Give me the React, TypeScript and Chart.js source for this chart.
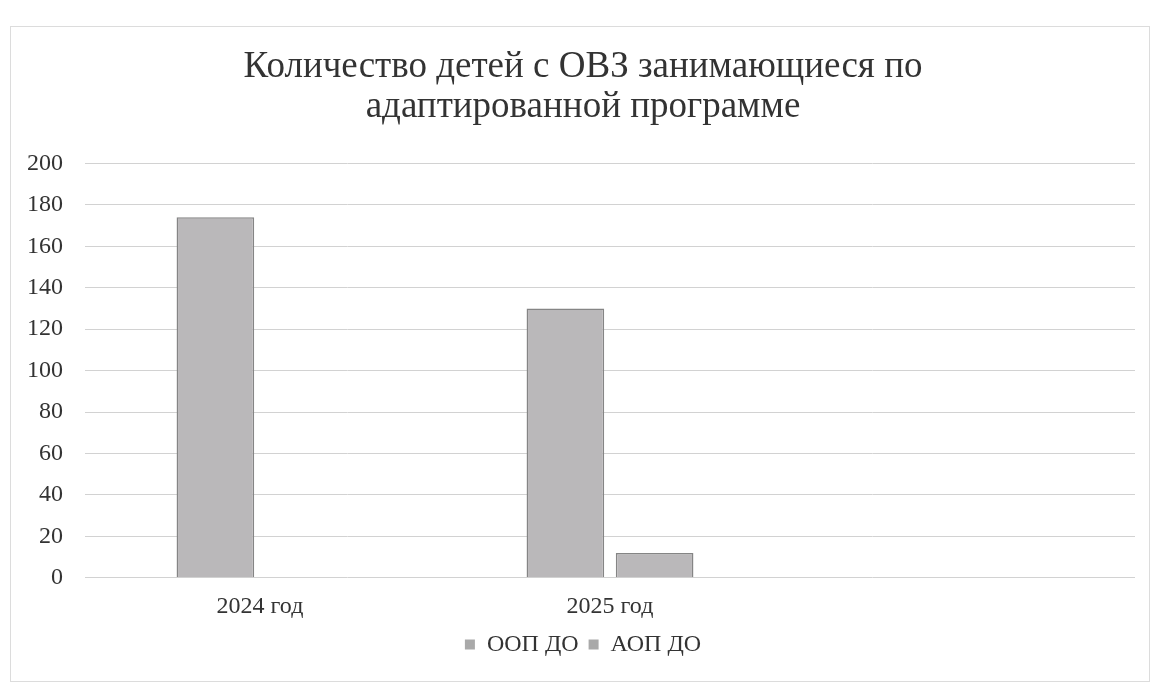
import React, { useEffect, useRef } from "react";
import { Chart, registerables } from "chart.js";

Chart.register(...registerables);

const categories = ["2024 год", "2025 год", ""];
const oopValues = [174, 130, null];
const aopValues = [0, 12, null];
const seriesNames = ["ООП ДО", "АОП ДО"];
const titleLines = ["Количество детей с ОВЗ занимающиеся по", "адаптированной программе"];
const yTicksMax = 200;
const yTicksStep = 20;

const FONT = "'Liberation Serif', 'Times New Roman', serif";

export default function App() {
  const ref = useRef<HTMLCanvasElement | null>(null);

  useEffect(() => {
    if (!ref.current) return;
    const barStyle = {
      backgroundColor: "#bab8ba",
      borderColor: "#858585",
      borderWidth: 1.5,
      categoryPercentage: 0.51,
      barPercentage: 0.87,
    };
    const chart = new Chart(ref.current, {
      type: "bar",
      data: {
        labels: categories,
        datasets: [
          { label: seriesNames[0], data: oopValues, ...barStyle },
          { label: seriesNames[1], data: aopValues, ...barStyle },
        ],
      },
      options: {
        animation: false,
        responsive: false,
        maintainAspectRatio: false,
        layout: { padding: { left: 20, right: 14, top: 21, bottom: 14.6 } },
        plugins: {
          title: {
            display: true,
            text: titleLines,
            color: "#333333",
            font: { family: FONT, size: 37, weight: "normal", lineHeight: 1.06 },
            padding: { top: 0, bottom: 37 },
          },
          legend: {
            position: "bottom",
            labels: {
              color: "#333333",
              font: { family: FONT, size: 24 },
              boxWidth: 10,
              boxHeight: 10,
              padding: 10,
              generateLabels: (c: any) =>
                c.data.datasets.map((d: any, i: number) => ({
                  text: d.label,
                  fillStyle: "#a9a9a9",
                  strokeStyle: "#a9a9a9",
                  lineWidth: 0,
                  hidden: false,
                  datasetIndex: i,
                  fontColor: "#333333",
                })),
            },
          },
          tooltip: { enabled: false },
        },
        scales: {
          x: {
            grid: { display: false, drawTicks: false },
            border: { display: false },
            ticks: { color: "#333333", font: { family: FONT, size: 24 }, padding: 14.6 },
            afterFit: (scale: any) => {
              scale.height = 44.6;
            },
          },
          y: {
            min: 0,
            max: yTicksMax,
            ticks: {
              stepSize: yTicksStep,
              color: "#333333",
              font: { family: FONT, size: 24 },
              padding: 22,
            },
            grid: { color: "#d2d2d2", lineWidth: 1, drawTicks: false },
            border: { display: false },
            afterFit: (scale: any) => {
              scale.width = 54;
              scale._computeLabelArea = () => undefined;
            },
          },
        },
      },
    });
    return () => chart.destroy();
  }, []);

  return (
    <div style={{ position: "fixed", left: 0, top: 0, width: 1155, height: 687, background: "#fff" }}>
      <div
        style={{
          position: "absolute",
          left: 10,
          top: 26,
          width: 1140,
          height: 656,
          border: "1px solid #dcdcdc",
          boxSizing: "border-box",
        }}
      >
        <canvas ref={ref} width={1138} height={654} style={{ display: "block" }} />
      </div>
    </div>
  );
}
